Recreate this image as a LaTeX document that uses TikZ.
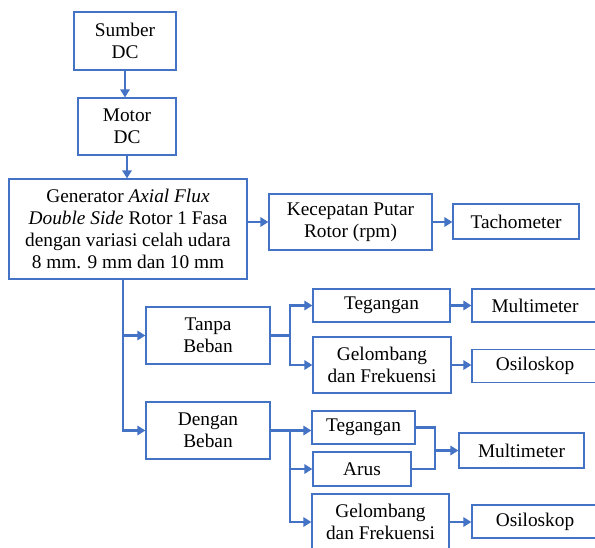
\documentclass[tikz,border=0pt]{standalone}
\usepackage{fontspec}
\setmainfont{Liberation Serif}
\usetikzlibrary{arrows.meta}
\definecolor{flowblue}{RGB}{68,114,196}

\begin{document}
\begin{tikzpicture}[x=0.75pt, y=-0.75pt,
    box/.style={draw=flowblue, line width=0.9pt, inner sep=0pt, align=center,
                font=\fontsize{14.5}{16.7}\selectfont},
    line/.style={draw=flowblue, line width=2.1pt},
    post/.style={line, -{Triangle[length=6pt,width=7pt]}}]

   \useasboundingbox (0,0) rectangle (595,547);

   \foreach \n/\x/\y/\w/\h/\t in {
       vSumber/125/41/102/58/{Sumber\\DC},
       vMotor/127/126.5/98/57/{Motor\\DC},
       vGen/128/229/238/100/{Generator \textit{Axial Flux}\\\textit{Double Side} Rotor 1 Fasa\\dengan variasi celah udara\\8 mm. 9 mm dan 10 mm},
       vKec/350.5/222/163/56/{Kecepatan Putar\\Rotor (rpm)},
       vTacho/516/221.5/126/35/{Tachometer},
       vTanpa/208/335.5/124/57/{Tanpa\\Beban},
       vTegA/381.5/305.5/137/33/{Tegangan},
       vMultiA/535/305.5/126/33/{Multimeter},
       vGelA/382/365/138/56/{Gelombang\\dan Frekuensi},
       vOsiA/535/366/126/33/{Osiloskop},
       vDengan/208/430.5/124/57/{Dengan\\Beban},
       vTegB/363.5/427.5/103/33/{Tegangan},
       vArus/362/469/98/34/{Arus},
       vMultiB/521.5/450.5/125/35/{Multimeter},
       vGelB/380.5/522/137/56/{Gelombang\\dan Frekuensi},
       vOsiB/535/521.5/126/33/{Osiloskop}}
     \node [box, minimum width=\w*0.75pt, minimum height=\h*0.75pt]
        (\n) at (\x,\y) {\t};

   % top chain
   \draw[post] (vSumber.south) -- (vSumber.south |- vMotor.north);
   \draw[post] (vMotor.south) -- (vMotor.south |- vGen.north);
   \draw[post] (vGen.east |- vKec.west) -- (vKec.west);
   \draw[post] (vKec.east) -- (vKec.east -| vTacho.west);

   % trunk down to the two load cases
   \path (vGen.south) ++(-5,0) coordinate (t0);
   \draw[post] (t0) |- (vDengan.west);
   \draw[post] (t0 |- vTanpa.west) -- (vTanpa.west);

   % tanpa beban
   \coordinate (bA) at (290,335.5);
   \draw[post] (vTanpa.east) -- (bA) |- (vTegA.west);
   \draw[post] (bA) |- (vGelA.west);
   \draw[post] (vTegA.east) -- (vMultiA.west);
   \draw[post] (vGelA.east) -- (vGelA.east -| vOsiA.west);

   % dengan beban
   \coordinate (bB) at (290,430.5);
   \draw[post] (vDengan.east) -- (vDengan.east -| vTegB.west);
   \draw[post] (bB) |- (vArus.west);
   \draw[post] (bB) |- (vGelB.west);
   \coordinate (m) at (435,450.5);
   \draw[line] (vTegB.east) -| (m);
   \draw[line] (vArus.east) -| (m);
   \draw[post] (m) -- (vMultiB.west);
   \draw[post] (vGelB.east) -- (vGelB.east -| vOsiB.west);

\end{tikzpicture}
\end{document}
